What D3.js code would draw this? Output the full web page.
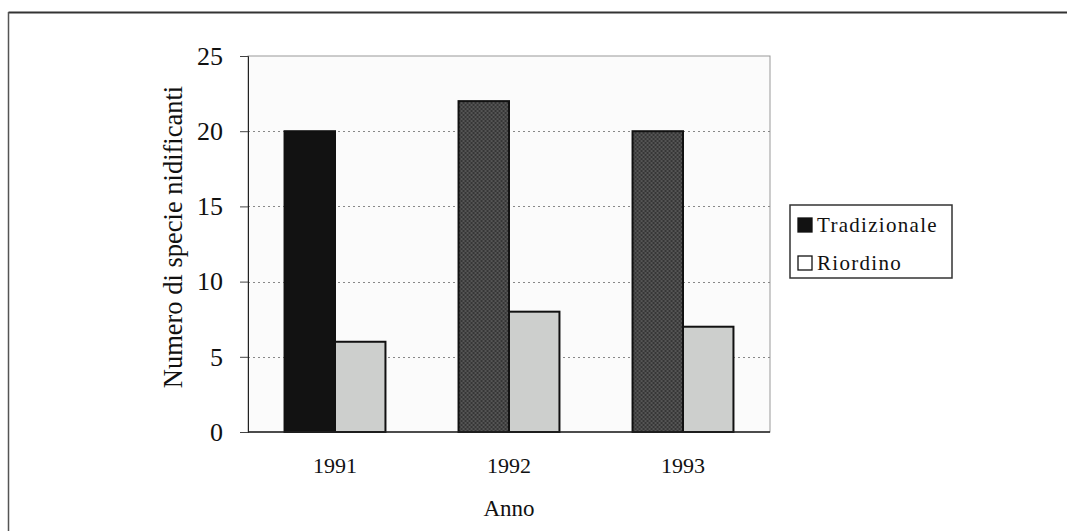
<!DOCTYPE html>
<html>
<head>
<meta charset="utf-8">
<script src="https://cdn.jsdelivr.net/npm/d3@7"></script>
<style>
  body { margin: 0; background: #fff; }
  svg { display: block; font-family: "Liberation Serif", "DejaVu Serif", serif; }
</style>
</head>
<body>
<div id="chart"></div>
<script>
// data
var years = ["1991", "1992", "1993"];
var series = ["Tradizionale", "Riordino"];
var tradizionale = [20, 22, 20];
var riordino = [6, 8, 7];
var yTicks = [0, 5, 10, 15, 20, 25];

var W = 1067, H = 531;
var margin = { top: 56, right: 297, bottom: 99, left: 248 },
	width = W - margin.left - margin.right,
	height = H - margin.top - margin.bottom;

var svg = d3.select("#chart")
	.append("svg")
	.attr("width", W)
	.attr("height", H);

// outer frame (top + left edge only, like the scan)
svg.append("line").attr("x1", 8.5).attr("x2", W).attr("y1", 12.5).attr("y2", 12.5)
	.attr("stroke", "#333").attr("stroke-width", 2);
svg.append("line").attr("x1", 8.5).attr("x2", 8.5).attr("y1", 12).attr("y2", H)
	.attr("stroke", "#555").attr("stroke-width", 1.5);

// checkered pattern for the dark bars
var defs = svg.append("defs");
var pat = defs.append("pattern")
	.attr("id", "check")
	.attr("width", 4).attr("height", 4)
	.attr("patternUnits", "userSpaceOnUse");
pat.append("rect").attr("width", 4).attr("height", 4).attr("fill", "#363636");
pat.append("rect").attr("width", 2).attr("height", 2).attr("fill", "#555");
pat.append("rect").attr("x", 2).attr("y", 2).attr("width", 2).attr("height", 2).attr("fill", "#555");

var g = svg.append("g")
	.attr("transform", "translate(" + margin.left + "," + margin.top + ")");

var x = d3.scaleBand()
	.domain(years)
	.range([0, width])
	.paddingInner(0.42)
	.paddingOuter(0.21);

var xs = d3.scaleBand()
	.domain(series)
	.range([0, x.bandwidth()]);

var y = d3.scaleLinear()
	.domain([0, 25])
	.range([height, 0]);

// plot background
g.append("rect")
	.attr("width", width)
	.attr("height", height)
	.attr("fill", "#fbfbfb")
	.attr("stroke", "#999")
	.attr("stroke-width", 1);

// dotted gridlines
g.append("g")
	.selectAll("line")
	.data(yTicks.filter(function (d) { return d > 0 && d < 25; }))
	.enter()
	.append("line")
	.attr("x1", 0)
	.attr("x2", width)
	.attr("y1", function (d) { return Math.round(y(d)) + 0.5; })
	.attr("y2", function (d) { return Math.round(y(d)) + 0.5; })
	.attr("stroke", "#888")
	.attr("stroke-dasharray", "2,3");

// y axis
var yAxis = g.append("g")
	.call(d3.axisLeft(y).tickValues(yTicks).tickSize(8).tickPadding(17));
yAxis.select(".domain").attr("stroke", "#222");
yAxis.selectAll(".tick line").attr("stroke", "#444");
yAxis.selectAll("text")
	.attr("font-size", "26px")
	.attr("fill", "#111")
	.attr("font-family", "Liberation Serif, serif");

// bars
var groups = g.selectAll(".year")
	.data(years)
	.enter()
	.append("g")
	.attr("class", "year")
	.attr("transform", function (d) { return "translate(" + x(d) + ",0)"; });

groups.append("rect")
	.attr("x", xs("Tradizionale"))
	.attr("y", function (d, i) { return y(tradizionale[i]); })
	.attr("width", xs.bandwidth())
	.attr("height", function (d, i) { return height - y(tradizionale[i]); })
	.attr("fill", function (d, i) { return i === 0 ? "#121212" : "url(#check)"; })
	.attr("stroke", "#111")
	.attr("stroke-width", 2);

groups.append("rect")
	.attr("x", xs("Riordino"))
	.attr("y", function (d, i) { return y(riordino[i]); })
	.attr("width", xs.bandwidth())
	.attr("height", function (d, i) { return height - y(riordino[i]); })
	.attr("fill", "#cdcfcd")
	.attr("stroke", "#111")
	.attr("stroke-width", 2);

// baseline
g.append("line")
	.attr("x1", 0).attr("x2", width)
	.attr("y1", height).attr("y2", height)
	.attr("stroke", "#222").attr("stroke-width", 1.5);

// x axis labels
var xAxis = g.append("g")
	.attr("transform", "translate(0," + height + ")")
	.call(d3.axisBottom(x).tickSize(0).tickPadding(25));
xAxis.select(".domain").remove();
xAxis.selectAll("text")
	.attr("font-size", "22px")
	.attr("fill", "#111")
	.attr("font-family", "Liberation Serif, serif");

// axis titles
g.append("text")
	.attr("x", width / 2)
	.attr("y", height + 84)
	.attr("text-anchor", "middle")
	.attr("font-size", "23px")
	.attr("fill", "#111")
	.text("Anno");

g.append("text")
	.attr("transform", "translate(-66," + (height / 2 - 7) + ") rotate(-90)")
	.attr("text-anchor", "middle")
	.attr("font-size", "26.5px")
	.attr("fill", "#111")
	.text("Numero di specie nidificanti");

// legend
var legend = svg.append("g").attr("transform", "translate(790,205)");
legend.append("rect")
	.attr("width", 162).attr("height", 73)
	.attr("fill", "#fff").attr("stroke", "#333").attr("stroke-width", 1.5);

var legendFills = ["#121212", "#fff"];
var items = legend.selectAll(".item")
	.data(series)
	.enter()
	.append("g")
	.attr("class", "item")
	.attr("transform", function (d, i) { return "translate(8," + (20 + i * 38) + ")"; });
items.append("rect")
	.attr("x", 0).attr("y", -7)
	.attr("width", 14).attr("height", 14)
	.attr("fill", function (d, i) { return legendFills[i]; })
	.attr("stroke", "#111").attr("stroke-width", 1.3);
items.append("text")
	.attr("x", 19).attr("y", 7)
	.attr("font-size", "21px")
	.attr("letter-spacing", "1.3px")
	.attr("fill", "#111")
	.text(function (d) { return d; });
</script>
</body>
</html>
